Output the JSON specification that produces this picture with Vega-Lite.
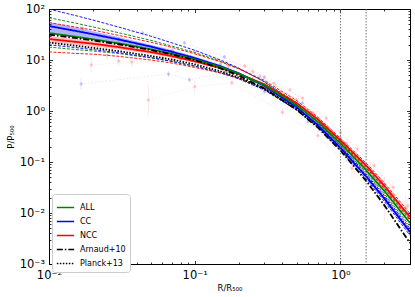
{
 "$schema": "https://vega.github.io/schema/vega-lite/v6.json",
 "width": 361, "height": 255,
 "autosize": {"type": "none"},
 "padding": {"left": 49, "top": 9, "right": 5, "bottom": 33},
 "config": {"view": {"stroke": "black", "strokeWidth": 1}, "font": "DejaVu Sans"},
 "datasets": {
  "d": [
   {"x":0.01,"ALL":33.7,"CC":46.3,"NCC":25.8,"Arnaud+10":31.5,"Planck+13":21.93,"gu":67.4,"gl":17.9,"bu":99.5,"bl":19.9,"ru":54.2,"rl":14.4,"bbl":34.7,"bbh":55.6,"rbl":21.9,"rbh":29.7},
   {"x":0.015,"ALL":28.8,"CC":37.5,"NCC":22.8,"Arnaud+10":27.16,"Planck+13":19.15,"gu":53.3,"gl":16.1,"bu":75.0,"bl":17.6,"ru":44.5,"rl":13.5,"bbl":29.3,"bbh":43.9,"rbl":19.8,"rbh":25.8},
   {"x":0.02,"ALL":25.5,"CC":32.0,"NCC":20.9,"Arnaud+10":24.26,"Planck+13":17.32,"gu":44.6,"gl":15.0,"bu":60.8,"bl":16.0,"ru":38.7,"rl":13.0,"bbl":25.6,"bbh":36.8,"rbl":18.4,"rbh":23.4},
   {"x":0.03,"ALL":21.2,"CC":25.3,"NCC":17.9,"Arnaud+10":20.37,"Planck+13":14.91,"gu":34.3,"gl":13.4,"bu":44.3,"bl":13.9,"ru":30.4,"rl":11.8,"bbl":21.3,"bbh":28.3,"rbl":16.1,"rbh":19.7},
   {"x":0.05,"ALL":16.2,"CC":18.3,"NCC":14.3,"Arnaud+10":15.74,"Planck+13":12.03,"gu":24.3,"gl":11.0,"bu":29.3,"bl":11.2,"ru":22.3,"rl":10.0,"bbl":16.1,"bbh":19.9,"rbl":13.2,"rbh":15.4},
   {"x":0.07,"ALL":13.2,"CC":14.4,"NCC":11.9,"Arnaud+10":12.84,"Planck+13":10.18,"gu":18.7,"gl":9.37,"bu":21.6,"bl":9.36,"ru":17.6,"rl":8.69,"bbl":13.0,"bbh":15.6,"rbl":11.1,"rbh":12.7},
   {"x":0.1,"ALL":10.3,"CC":10.9,"NCC":9.41,"Arnaud+10":9.91,"Planck+13":8.22,"gu":14.0,"gl":7.62,"bu":15.5,"bl":7.52,"ru":13.2,"rl":7.15,"bbl":10.0,"bbh":11.7,"rbl":8.85,"rbh":9.97},
   {"x":0.15,"ALL":7.33,"CC":7.54,"NCC":6.99,"Arnaud+10":6.85,"Planck+13":6.02,"gu":9.46,"gl":5.72,"bu":10.0,"bl":5.58,"ru":9.23,"rl":5.59,"bbl":7.09,"bbh":7.99,"rbl":6.64,"rbh":7.34},
   {"x":0.2,"ALL":5.45,"CC":5.49,"NCC":5.35,"Arnaud+10":4.95,"Planck+13":4.53,"gu":6.76,"gl":4.41,"bu":6.97,"bl":4.28,"ru":6.74,"rl":4.44,"bbl":5.22,"bbh":5.76,"rbl":5.08,"rbh":5.62},
   {"x":0.3,"ALL":3.21,"CC":3.12,"NCC":3.35,"Arnaud+10":2.788,"Planck+13":2.697,"gu":3.79,"gl":2.73,"bu":3.74,"bl":2.59,"ru":3.99,"rl":2.88,"bbl":2.96,"bbh":3.28,"rbl":3.18,"rbh":3.52},
   {"x":0.5,"ALL":1.30,"CC":1.187,"NCC":1.43,"Arnaud+10":1.060,"Planck+13":1.086,"gu":1.456,"gl":1.157,"bu":1.341,"bl":1.045,"ru":1.60,"rl":1.27,"bbl":1.128,"bbh":1.246,"rbl":1.36,"rbh":1.50},
   {"x":0.7,"ALL":0.612,"CC":0.528,"NCC":0.688,"Arnaud+10":0.471,"Planck+13":0.500,"gu":0.673,"gl":0.557,"bu":0.581,"bl":0.475,"ru":0.757,"rl":0.626,"bbl":0.502,"bbh":0.554,"rbl":0.654,"rbh":0.722},
   {"x":1,"ALL":0.231,"CC":0.189,"NCC":0.265,"Arnaud+10":0.1686,"Planck+13":0.1886,"gu":0.254,"gl":0.210,"bu":0.208,"bl":0.170,"ru":0.292,"rl":0.241,"bbl":0.180,"bbh":0.198,"rbl":0.252,"rbh":0.278},
   {"x":1.5,"ALL":0.0692,"CC":0.0521,"NCC":0.0854,"Arnaud+10":0.0427,"Planck+13":0.0528,"gu":0.0775,"gl":0.0623,"bu":0.0584,"bl":0.0464,"ru":0.0956,"rl":0.0769,"bbl":0.0490,"bbh":0.0552,"rbl":0.0803,"rbh":0.0905},
   {"x":2,"ALL":0.0270,"CC":0.0192,"NCC":0.0341,"Arnaud+10":0.0142,"Planck+13":0.0196,"gu":0.0308,"gl":0.0238,"bu":0.0219,"bl":0.0169,"ru":0.0389,"rl":0.0300,"bbl":0.0179,"bbh":0.0205,"rbl":0.0317,"rbh":0.0365},
   {"x":3,"ALL":0.00637,"CC":0.00423,"NCC":0.00833,"Arnaud+10":0.00258,"Planck+13":0.00444,"gu":0.00745,"gl":0.00548,"bu":0.00499,"bl":0.00364,"ru":0.00975,"rl":0.00716,"bbl":0.00389,"bbh":0.00457,"rbl":0.00766,"rbh":0.00900}
  ],
  "obs": [
   {"c":"n1","s":"NCC","x":0.0195,"y":8.0,"lo":5.8,"hi":11},
   {"c":"n1","s":"NCC","x":0.037,"y":9.1,"lo":7.5,"hi":11},
   {"c":"n1","s":"NCC","x":0.07,"y":9.8,"lo":8.5,"hi":11.3},
   {"c":"n1","s":"NCC","x":0.13,"y":7.8,"lo":7,"hi":8.7},
   {"c":"n1","s":"NCC","x":0.25,"y":4.3,"lo":3.8,"hi":4.9},
   {"c":"n1","s":"NCC","x":0.45,"y":1.6,"lo":1.35,"hi":1.9},
   {"c":"n1","s":"NCC","x":0.8,"y":0.45,"lo":0.36,"hi":0.56},
   {"c":"n1","s":"NCC","x":1.4,"y":0.09,"lo":0.06,"hi":0.12},
   {"c":"n1","s":"NCC","x":2.2,"y":0.022,"lo":0.012,"hi":0.035},
   {"c":"n2","s":"NCC","x":0.048,"y":1.64,"lo":0.8,"hi":3.3},
   {"c":"n2","s":"NCC","x":0.1,"y":3.0,"lo":2.2,"hi":4.0},
   {"c":"n2","s":"NCC","x":0.18,"y":3.6,"lo":3.0,"hi":4.3},
   {"c":"n2","s":"NCC","x":0.4,"y":0.95,"lo":0.8,"hi":1.15},
   {"c":"n2","s":"NCC","x":0.7,"y":0.33,"lo":0.26,"hi":0.42},
   {"c":"n2","s":"NCC","x":1.2,"y":0.075,"lo":0.05,"hi":0.11},
   {"c":"n2","s":"NCC","x":2.0,"y":0.014,"lo":0.007,"hi":0.025},
   {"c":"c1","s":"CC","x":0.0166,"y":3.4,"lo":2.6,"hi":4.5},
   {"c":"c1","s":"CC","x":0.066,"y":5.3,"lo":4.6,"hi":6.1},
   {"c":"c1","s":"CC","x":0.092,"y":4.1,"lo":3.6,"hi":4.7},
   {"c":"c1","s":"CC","x":0.16,"y":5.6,"lo":5.0,"hi":6.3},
   {"c":"c1","s":"CC","x":0.3,"y":2.4,"lo":2.1,"hi":2.8},
   {"c":"c1","s":"CC","x":0.6,"y":0.62,"lo":0.52,"hi":0.74},
   {"c":"c1","s":"CC","x":1.1,"y":0.13,"lo":0.1,"hi":0.17},
   {"c":"c1","s":"CC","x":2.5,"y":0.009,"lo":0.005,"hi":0.015},
   {"c":"c2","s":"CC","x":0.017,"y":42,"lo":36,"hi":49},
   {"c":"c2","s":"CC","x":0.044,"y":33.9,"lo":30,"hi":38},
   {"c":"c2","s":"CC","x":0.085,"y":21.6,"lo":19.5,"hi":24},
   {"c":"c2","s":"CC","x":0.16,"y":11.5,"lo":10.5,"hi":12.6},
   {"c":"c2","s":"CC","x":0.3,"y":4.6,"lo":4.2,"hi":5.0},
   {"c":"c2","s":"CC","x":0.55,"y":1.45,"lo":1.3,"hi":1.6},
   {"c":"c2","s":"CC","x":1.0,"y":0.3,"lo":0.25,"hi":0.36},
   {"c":"c2","s":"CC","x":2.0,"y":0.036,"lo":0.025,"hi":0.05},
   {"c":"n3","s":"NCC","x":0.025,"y":12.5,"lo":10,"hi":15},
   {"c":"n3","s":"NCC","x":0.06,"y":11.2,"lo":9.8,"hi":12.8},
   {"c":"n3","s":"NCC","x":0.12,"y":9.1,"lo":8.3,"hi":10},
   {"c":"n3","s":"NCC","x":0.25,"y":5.9,"lo":5.4,"hi":6.4},
   {"c":"n3","s":"NCC","x":0.5,"y":1.65,"lo":1.5,"hi":1.8},
   {"c":"n3","s":"NCC","x":0.9,"y":0.36,"lo":0.3,"hi":0.43},
   {"c":"n3","s":"NCC","x":1.6,"y":0.072,"lo":0.05,"hi":0.1},
   {"c":"n3","s":"NCC","x":2.8,"y":0.013,"lo":0.007,"hi":0.022},
   {"c":"n4","s":"NCC","x":0.03,"y":9.6,"lo":7.8,"hi":11.8},
   {"c":"n4","s":"NCC","x":0.08,"y":10.6,"lo":9.5,"hi":11.8},
   {"c":"n4","s":"NCC","x":0.17,"y":7.6,"lo":7,"hi":8.2},
   {"c":"n4","s":"NCC","x":0.35,"y":3.5,"lo":3.2,"hi":3.8},
   {"c":"n4","s":"NCC","x":0.65,"y":0.92,"lo":0.82,"hi":1.03},
   {"c":"n4","s":"NCC","x":1.1,"y":0.23,"lo":0.19,"hi":0.28},
   {"c":"n4","s":"NCC","x":1.9,"y":0.042,"lo":0.03,"hi":0.058},
   {"c":"n5","s":"NCC","x":0.04,"y":20,"lo":16,"hi":24},
   {"c":"n5","s":"NCC","x":0.1,"y":14.5,"lo":13,"hi":16},
   {"c":"n5","s":"NCC","x":0.22,"y":7.7,"lo":7.1,"hi":8.3},
   {"c":"n5","s":"NCC","x":0.45,"y":2.6,"lo":2.4,"hi":2.8},
   {"c":"n5","s":"NCC","x":0.8,"y":0.72,"lo":0.64,"hi":0.8},
   {"c":"n5","s":"NCC","x":1.3,"y":0.18,"lo":0.15,"hi":0.22},
   {"c":"n5","s":"NCC","x":2.3,"y":0.032,"lo":0.024,"hi":0.042},
   {"c":"c3","s":"CC","x":0.03,"y":25,"lo":21,"hi":29},
   {"c":"c3","s":"CC","x":0.07,"y":15.5,"lo":14,"hi":17},
   {"c":"c3","s":"CC","x":0.15,"y":8.3,"lo":7.7,"hi":9},
   {"c":"c3","s":"CC","x":0.3,"y":3.3,"lo":3.1,"hi":3.5},
   {"c":"c3","s":"CC","x":0.6,"y":0.82,"lo":0.75,"hi":0.9},
   {"c":"c3","s":"CC","x":1.2,"y":0.125,"lo":0.1,"hi":0.15},
   {"c":"c3","s":"CC","x":2.6,"y":0.0105,"lo":0.007,"hi":0.015},
   {"c":"n6","s":"NCC","x":0.06,"y":16,"lo":14,"hi":18.5},
   {"c":"n6","s":"NCC","x":0.14,"y":10,"lo":9,"hi":11},
   {"c":"n6","s":"NCC","x":0.28,"y":4.8,"lo":4.4,"hi":5.2},
   {"c":"n6","s":"NCC","x":0.55,"y":1.8,"lo":1.6,"hi":2.0},
   {"c":"n6","s":"NCC","x":1.0,"y":0.38,"lo":0.32,"hi":0.45},
   {"c":"n6","s":"NCC","x":1.7,"y":0.085,"lo":0.065,"hi":0.11},
   {"c":"n6","s":"NCC","x":2.9,"y":0.014,"lo":0.009,"hi":0.02}
  ],
  "vl": [{"x": 1}, {"x": 1.5}]
 },
 "layer": [
  {
   "data": {"name": "obs"},
   "transform": [{"filter": {"field": "s", "equal": "NCC"}}],
   "layer": [
    {"mark": {"type": "line", "color": "#ff6060", "strokeDash": [1.5, 2], "strokeWidth": 0.8, "opacity": 0.2, "clip": true},
     "encoding": {
      "x": {"field": "x", "type": "quantitative", "scale": {"type": "log", "domain": [0.01, 3], "nice": false}, "axis": null},
      "y": {"field": "y", "type": "quantitative", "scale": {"type": "log", "domain": [0.001, 100], "nice": false}, "axis": null},
      "detail": {"field": "c"}}},
    {"mark": {"type": "rule", "color": "#ff6060", "strokeWidth": 0.8, "opacity": 0.2, "clip": true},
     "encoding": {
      "x": {"field": "x", "type": "quantitative", "axis": null},
      "y": {"field": "lo", "type": "quantitative", "axis": null},
      "y2": {"field": "hi"}}},
    {"mark": {"type": "circle", "color": "#ff6060", "size": 10, "opacity": 0.3, "clip": true},
     "encoding": {
      "x": {"field": "x", "type": "quantitative", "axis": null},
      "y": {"field": "y", "type": "quantitative", "axis": null}}}
   ]
  },
  {
   "data": {"name": "obs"},
   "transform": [{"filter": {"field": "s", "equal": "CC"}}],
   "layer": [
    {"mark": {"type": "line", "color": "#6060ff", "strokeDash": [1.5, 2], "strokeWidth": 0.8, "opacity": 0.2, "clip": true},
     "encoding": {
      "x": {"field": "x", "type": "quantitative", "axis": null},
      "y": {"field": "y", "type": "quantitative", "axis": null},
      "detail": {"field": "c"}}},
    {"mark": {"type": "rule", "color": "#6060ff", "strokeWidth": 0.8, "opacity": 0.2, "clip": true},
     "encoding": {
      "x": {"field": "x", "type": "quantitative", "axis": null},
      "y": {"field": "lo", "type": "quantitative", "axis": null},
      "y2": {"field": "hi"}}},
    {"mark": {"type": "circle", "color": "#6060ff", "size": 10, "opacity": 0.3, "clip": true},
     "encoding": {
      "x": {"field": "x", "type": "quantitative", "axis": null},
      "y": {"field": "y", "type": "quantitative", "axis": null}}}
   ]
  },
  {
   "data": {"name": "d"},
   "mark": {"type": "area", "color": "#0000ff", "opacity": 0.3, "clip": true},
   "encoding": {
    "x": {"field": "x", "type": "quantitative", "axis": null},
    "y": {"field": "bbl", "type": "quantitative", "axis": null},
    "y2": {"field": "bbh"}
   }
  },
  {
   "data": {"name": "d"},
   "mark": {"type": "area", "color": "#ff0000", "opacity": 0.25, "clip": true},
   "encoding": {
    "x": {"field": "x", "type": "quantitative", "axis": null},
    "y": {"field": "rbl", "type": "quantitative", "axis": null},
    "y2": {"field": "rbh"}
   }
  },
  {
   "data": {"name": "d"},
   "transform": [{"fold": ["gu", "gl"], "as": ["k", "v"]}],
   "mark": {"type": "line", "color": "#008000", "strokeDash": [3, 1.5], "strokeWidth": 0.9, "clip": true},
   "encoding": {
    "x": {"field": "x", "type": "quantitative", "axis": {"orient": "top", "labels": false, "title": null, "domain": false, "grid": false, "tickColor": "black", "tickWidth": 0.8, "values": [0.01,0.02,0.03,0.04,0.05,0.06,0.07,0.08,0.09,0.1,0.2,0.3,0.4,0.5,0.6,0.7,0.8,0.9,1,2,3], "tickSize": {"condition": {"test": "datum.value===0.01||datum.value===0.1||datum.value===1", "value": -3.5}, "value": -2}}},
    "y": {"field": "v", "type": "quantitative", "axis": {"orient": "right", "labels": false, "title": null, "domain": false, "grid": false, "tickColor": "black", "tickWidth": 0.8, "values": [0.001,0.002,0.003,0.004,0.005,0.006,0.007,0.008,0.009,0.01,0.02,0.03,0.04,0.05,0.06,0.07,0.08,0.09,0.1,0.2,0.3,0.4,0.5,0.6,0.7,0.8,0.9,1,2,3,4,5,6,7,8,9,10,20,30,40,50,60,70,80,90,100], "tickSize": {"condition": {"test": "indexof([0.001,0.01,0.1,1,10,100], datum.value)>=0", "value": -3.5}, "value": -2}}},
    "detail": {"field": "k"}
   }
  },
  {
   "data": {"name": "d"},
   "transform": [{"fold": ["bu", "bl"], "as": ["k", "v"]}],
   "mark": {"type": "line", "color": "#0000ff", "strokeDash": [3, 1.5], "strokeWidth": 0.9, "clip": true},
   "encoding": {
    "x": {"field": "x", "type": "quantitative", "axis": null},
    "y": {"field": "v", "type": "quantitative", "axis": null},
    "detail": {"field": "k"}
   }
  },
  {
   "data": {"name": "d"},
   "transform": [{"fold": ["ru", "rl"], "as": ["k", "v"]}],
   "mark": {"type": "line", "color": "#ff0000", "strokeDash": [3, 1.5], "strokeWidth": 0.9, "clip": true},
   "encoding": {
    "x": {"field": "x", "type": "quantitative", "axis": null},
    "y": {"field": "v", "type": "quantitative", "axis": null},
    "detail": {"field": "k"}
   }
  },
  {
   "data": {"name": "d"},
   "transform": [{"fold": ["Planck+13", "NCC", "CC", "ALL", "Arnaud+10"], "as": ["s", "v"]}],
   "mark": {"type": "line", "strokeWidth": 1.8, "clip": true},
   "encoding": {
    "x": {"field": "x", "type": "quantitative", "axis": {"orient": "bottom", "title": "R/R₅₀₀", "titleFontSize": 8.5, "titleFontWeight": "normal", "titleColor": "black", "titlePadding": 1, "labelFontSize": 11.5, "labelColor": "black", "labelPadding": 9, "labelFlush": false, "labelOverlap": false, "grid": false, "domainColor": "black", "tickColor": "black", "tickWidth": 0.8, "values": [0.01,0.02,0.03,0.04,0.05,0.06,0.07,0.08,0.09,0.1,0.2,0.3,0.4,0.5,0.6,0.7,0.8,0.9,1,2,3], "labelExpr": "datum.value===0.01?'10⁻²':datum.value===0.1?'10⁻¹':datum.value===1?'10⁰':''", "tickSize": {"condition": {"test": "datum.value===0.01||datum.value===0.1||datum.value===1", "value": -3.5}, "value": -2}}},
    "y": {"field": "v", "type": "quantitative", "axis": {"orient": "left", "title": "P/P₅₀₀", "titleFontSize": 8.5, "titleFontWeight": "normal", "titleColor": "black", "titlePadding": 4, "labelFontSize": 11.5, "labelColor": "black", "labelPadding": 8, "labelFlush": false, "labelOverlap": false, "grid": false, "domainColor": "black", "tickColor": "black", "tickWidth": 0.8, "values": [0.001,0.002,0.003,0.004,0.005,0.006,0.007,0.008,0.009,0.01,0.02,0.03,0.04,0.05,0.06,0.07,0.08,0.09,0.1,0.2,0.3,0.4,0.5,0.6,0.7,0.8,0.9,1,2,3,4,5,6,7,8,9,10,20,30,40,50,60,70,80,90,100], "labelExpr": "datum.value===100?'10²':datum.value===10?'10¹':datum.value===1?'10⁰':datum.value===0.1?'10⁻¹':datum.value===0.01?'10⁻²':datum.value===0.001?'10⁻³':''", "tickSize": {"condition": {"test": "indexof([0.001,0.01,0.1,1,10,100], datum.value)>=0", "value": -3.5}, "value": -2}}},
    "color": {"field": "s", "type": "nominal", "scale": {"domain": ["ALL", "CC", "NCC", "Arnaud+10", "Planck+13"], "range": ["#008000", "#0000ff", "#ff0000", "#000000", "#000000"]}, "legend": {"title": null, "orient": "none", "legendX": 3, "legendY": 185, "symbolType": "stroke", "symbolStrokeWidth": 1.5, "symbolSize": 300, "labelFontSize": 8, "labelColor": "black", "labelOffset": 5, "fillColor": "white", "strokeColor": "#cccccc", "padding": 4, "cornerRadius": 3, "rowPadding": -5}},
    "strokeDash": {"field": "s", "type": "nominal", "scale": {"domain": ["ALL", "CC", "NCC", "Arnaud+10", "Planck+13"], "range": [[1, 0], [1, 0], [1, 0], [6, 2, 1.5, 2], [1.5, 1.5]]}, "legend": {"title": null, "orient": "none", "legendX": 3, "legendY": 185, "symbolType": "stroke", "symbolStrokeWidth": 1.5, "symbolSize": 300, "labelFontSize": 8, "labelColor": "black", "labelOffset": 5, "fillColor": "white", "strokeColor": "#cccccc", "padding": 4, "cornerRadius": 3, "rowPadding": -5}}
   }
  },
  {
   "data": {"name": "vl"},
   "mark": {"type": "rule", "color": "#555555", "strokeDash": [1.5, 1.5], "strokeWidth": 0.8},
   "encoding": {
    "x": {"field": "x", "type": "quantitative", "axis": null}
   }
  }
 ],
 "resolve": {"axis": {"x": "independent", "y": "independent"}}
}
